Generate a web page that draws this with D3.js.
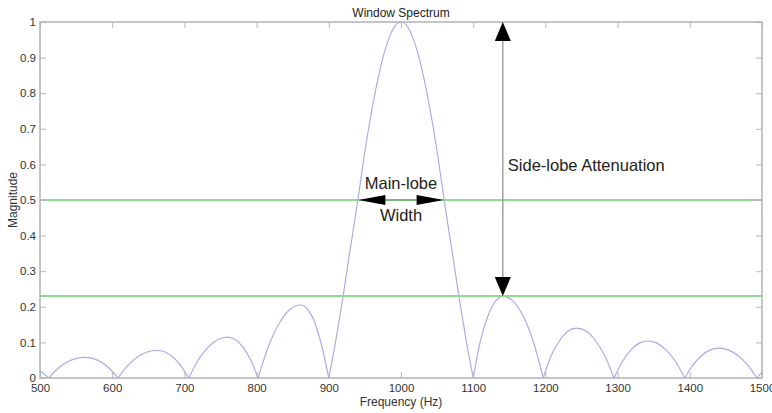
<!DOCTYPE html>
<html>
<head>
<meta charset="utf-8">
<script src="https://cdn.jsdelivr.net/npm/d3@7/dist/d3.min.js"></script>
<style>
  html, body { margin: 0; padding: 0; background: #fff; }
  svg { display: block; font-family: "Liberation Sans", Arial, sans-serif; }
</style>
</head>
<body>
<svg id="chart" width="772" height="413"></svg>
<script>
// Window spectrum magnitude, sampled along frequency (Hz)
const freqHz = [
  500, 506, 512,
  524.5, 537, 549.5, 562, 573.5, 585, 596.5, 608,
  621.5, 635, 648.5, 662, 673, 684, 695, 706,
  719.5, 733, 746.5, 760, 770.5, 781, 791.5, 802,
  817, 832, 846.5, 861, 870.5, 880.5, 890, 900,
  910, 920, 928, 935, 941, 950, 960, 970, 980, 990, 1000,
  1010, 1020, 1030, 1040, 1050, 1059, 1065, 1072, 1080, 1090, 1100,
  1110, 1120.5, 1131, 1141, 1155, 1169, 1183, 1197,
  1208, 1220, 1231.5, 1243, 1256, 1269, 1282, 1295,
  1307, 1318.5, 1330, 1342, 1354.5, 1367, 1380, 1393,
  1405, 1417, 1428.5, 1440, 1453, 1466, 1479.5, 1493,
  1500
];
const magnitude = [
  0.021, 0.0108, 0,
  0.026, 0.044, 0.0545, 0.058, 0.0545, 0.044, 0.026, 0,
  0.035, 0.059, 0.073, 0.078, 0.073, 0.059, 0.035, 0,
  0.052, 0.087, 0.108, 0.115, 0.108, 0.087, 0.052, 0,
  0.092, 0.156, 0.193, 0.205, 0.193, 0.156, 0.092, 0,
  0.109, 0.232, 0.34, 0.43, 0.51, 0.637, 0.757, 0.858, 0.935, 0.984, 1.0,
  0.984, 0.935, 0.858, 0.757, 0.637, 0.51, 0.43, 0.34, 0.232, 0.109, 0,
  0.104, 0.175, 0.216, 0.23, 0.216, 0.175, 0.104, 0,
  0.063, 0.106, 0.132, 0.14, 0.132, 0.106, 0.063, 0,
  0.047, 0.079, 0.098, 0.104, 0.098, 0.079, 0.047, 0,
  0.038, 0.064, 0.079, 0.084, 0.079, 0.064, 0.038, 0,
  0.017
];

// Reference levels: half-amplitude level and highest side-lobe level
const referenceLevels = [0.5, 0.23];
// Main-lobe width measured at the 0.5 level (Hz)
const mainLobeEdges = [941, 1059];
// Frequency of the highest side lobe and the span of the attenuation arrow
const sideLobeFreq = 1141;
const attenuationSpan = [0.23, 1.0];

const xTicks = [500, 600, 700, 800, 900, 1000, 1100, 1200, 1300, 1400, 1500];
const xTickLabels = ["500", "600", "700", "800", "900", "1000", "1100", "1200", "1300", "1400", "1500"];
const yTicks = [0, 0.1, 0.2, 0.3, 0.4, 0.5, 0.6, 0.7, 0.8, 0.9, 1];
const yTickLabels = ["0", "0.1", "0.2", "0.3", "0.4", "0.5", "0.6", "0.7", "0.8", "0.9", "1"];

const svg = d3.select("#chart");
const W = 772, H = 413;
const plot = { left: 40, right: 762, top: 22, bottom: 378 };

svg.append("rect").attr("width", W).attr("height", H).attr("fill", "#fff");

const x = d3.scaleLinear().domain([500, 1500]).range([plot.left, plot.right]);
const y = d3.scaleLinear().domain([0, 1]).range([plot.bottom, plot.top]);

// Split the spectrum into lobes at its nulls so each null stays a sharp cusp
const lobes = [];
let current = [];
freqHz.forEach((f, i) => {
  const p = [f, magnitude[i]];
  current.push(p);
  if (magnitude[i] === 0 && current.length > 1) {
    lobes.push(current);
    current = [p];
  }
});
if (current.length > 1) lobes.push(current);

const line = d3.line()
  .x(d => x(d[0]))
  .y(d => y(d[1]))
  .curve(d3.curveMonotoneX);

svg.append("defs").append("clipPath").attr("id", "plotClip")
  .append("rect")
  .attr("x", plot.left).attr("y", plot.top - 1)
  .attr("width", plot.right - plot.left).attr("height", plot.bottom - plot.top + 1);

const g = svg.append("g").attr("clip-path", "url(#plotClip)");

g.selectAll("path.lobe")
  .data(lobes)
  .join("path")
  .attr("class", "lobe")
  .attr("d", line)
  .attr("fill", "none")
  .attr("stroke", "#a9a9e8")
  .attr("stroke-width", 1.15);

// Reference level lines
g.selectAll("line.level")
  .data(referenceLevels)
  .join("line")
  .attr("class", "level")
  .attr("x1", plot.left).attr("x2", plot.right)
  .attr("y1", d => y(d)).attr("y2", d => y(d))
  .attr("stroke", "#8fdc8f")
  .attr("stroke-width", 2);

// Axes with inward ticks on all four sides
const tickColor = "#b8b8b8";
const labelColor = "#333";

const axB = d3.axisBottom(x).tickValues(xTicks).tickFormat((d, i) => xTickLabels[i])
  .tickSizeInner(-6).tickSizeOuter(0).tickPadding(6);
const axT = d3.axisTop(x).tickValues(xTicks).tickFormat("")
  .tickSizeInner(-6).tickSizeOuter(0);
const axL = d3.axisLeft(y).tickValues(yTicks).tickFormat((d, i) => yTickLabels[i])
  .tickSizeInner(-6).tickSizeOuter(0).tickPadding(4);
const axR = d3.axisRight(y).tickValues(yTicks).tickFormat("")
  .tickSizeInner(-6).tickSizeOuter(0);

function styleAxis(sel) {
  sel.select(".domain").remove();
  sel.selectAll(".tick line").attr("stroke", tickColor).attr("stroke-width", 1);
  sel.selectAll(".tick text").attr("fill", labelColor)
    .style("font-family", "'Liberation Sans', Arial, sans-serif")
    .style("font-size", "11.5px");
}

svg.append("g").attr("transform", `translate(0,${plot.bottom})`).call(axB).call(styleAxis);
svg.append("g").attr("transform", `translate(0,${plot.top})`).call(axT).call(styleAxis);
svg.append("g").attr("transform", `translate(${plot.left},0)`).call(axL).call(styleAxis);
svg.append("g").attr("transform", `translate(${plot.right},0)`).call(axR).call(styleAxis);

// Axes box
svg.append("rect")
  .attr("x", plot.left).attr("y", plot.top)
  .attr("width", plot.right - plot.left).attr("height", plot.bottom - plot.top)
  .attr("fill", "none")
  .attr("stroke", "#b3b3b3")
  .attr("stroke-width", 1.5);

// Title and axis labels
svg.append("text")
  .attr("x", x(1000)).attr("y", 17)
  .attr("text-anchor", "middle")
  .attr("fill", "#222")
  .style("font-size", "12px")
  .text("Window Spectrum");

svg.append("text")
  .attr("x", x(1000)).attr("y", 406)
  .attr("text-anchor", "middle")
  .attr("fill", "#333")
  .style("font-size", "12px")
  .text("Frequency (Hz)");

svg.append("text")
  .attr("transform", `translate(17,${y(0.5)}) rotate(-90)`)
  .attr("text-anchor", "middle")
  .attr("fill", "#333")
  .style("font-size", "12px")
  .text("Magnitude");

// Side-lobe attenuation: vertical double arrow
const ax = x(sideLobeFreq);
const yTop = y(attenuationSpan[1]);
const yBot = y(attenuationSpan[0]);
const headLen = 19, headHalf = 8;

svg.append("line")
  .attr("x1", ax).attr("x2", ax)
  .attr("y1", yTop + headLen - 1).attr("y2", yBot - headLen + 1)
  .attr("stroke", "#9a9a9a")
  .attr("stroke-width", 1.4);

svg.append("path")
  .attr("d", `M${ax},${yTop} L${ax + headHalf},${yTop + headLen} L${ax - headHalf},${yTop + headLen} Z`)
  .attr("fill", "#000");
svg.append("path")
  .attr("d", `M${ax},${yBot} L${ax + headHalf},${yBot - headLen} L${ax - headHalf},${yBot - headLen} Z`)
  .attr("fill", "#000");

svg.append("text")
  .attr("x", ax + 5).attr("y", 171)
  .attr("fill", "#222")
  .style("font-size", "16.5px")
  .text("Side-lobe Attenuation");

// Main-lobe width: horizontal double arrow on the 0.5 level
const hy = y(referenceLevels[0]);
const hx1 = x(mainLobeEdges[0]);
const hx2 = x(mainLobeEdges[1]);
const hLen = 27, hHalf = 5;

svg.append("line")
  .attr("x1", hx1 + hLen - 1).attr("x2", hx2 - hLen + 1)
  .attr("y1", hy).attr("y2", hy)
  .attr("stroke", "#6f8f6f")
  .attr("stroke-width", 1);

svg.append("path")
  .attr("d", `M${hx1},${hy} L${hx1 + hLen},${hy - hHalf} L${hx1 + hLen},${hy + hHalf} Z`)
  .attr("fill", "#000");
svg.append("path")
  .attr("d", `M${hx2},${hy} L${hx2 - hLen},${hy - hHalf} L${hx2 - hLen},${hy + hHalf} Z`)
  .attr("fill", "#000");

svg.append("text")
  .attr("x", x(1000)).attr("y", 189)
  .attr("text-anchor", "middle")
  .attr("fill", "#222")
  .style("font-size", "16.5px")
  .text("Main-lobe");

svg.append("text")
  .attr("x", x(1000)).attr("y", 221)
  .attr("text-anchor", "middle")
  .attr("fill", "#222")
  .style("font-size", "16.5px")
  .text("Width");
</script>
</body>
</html>
